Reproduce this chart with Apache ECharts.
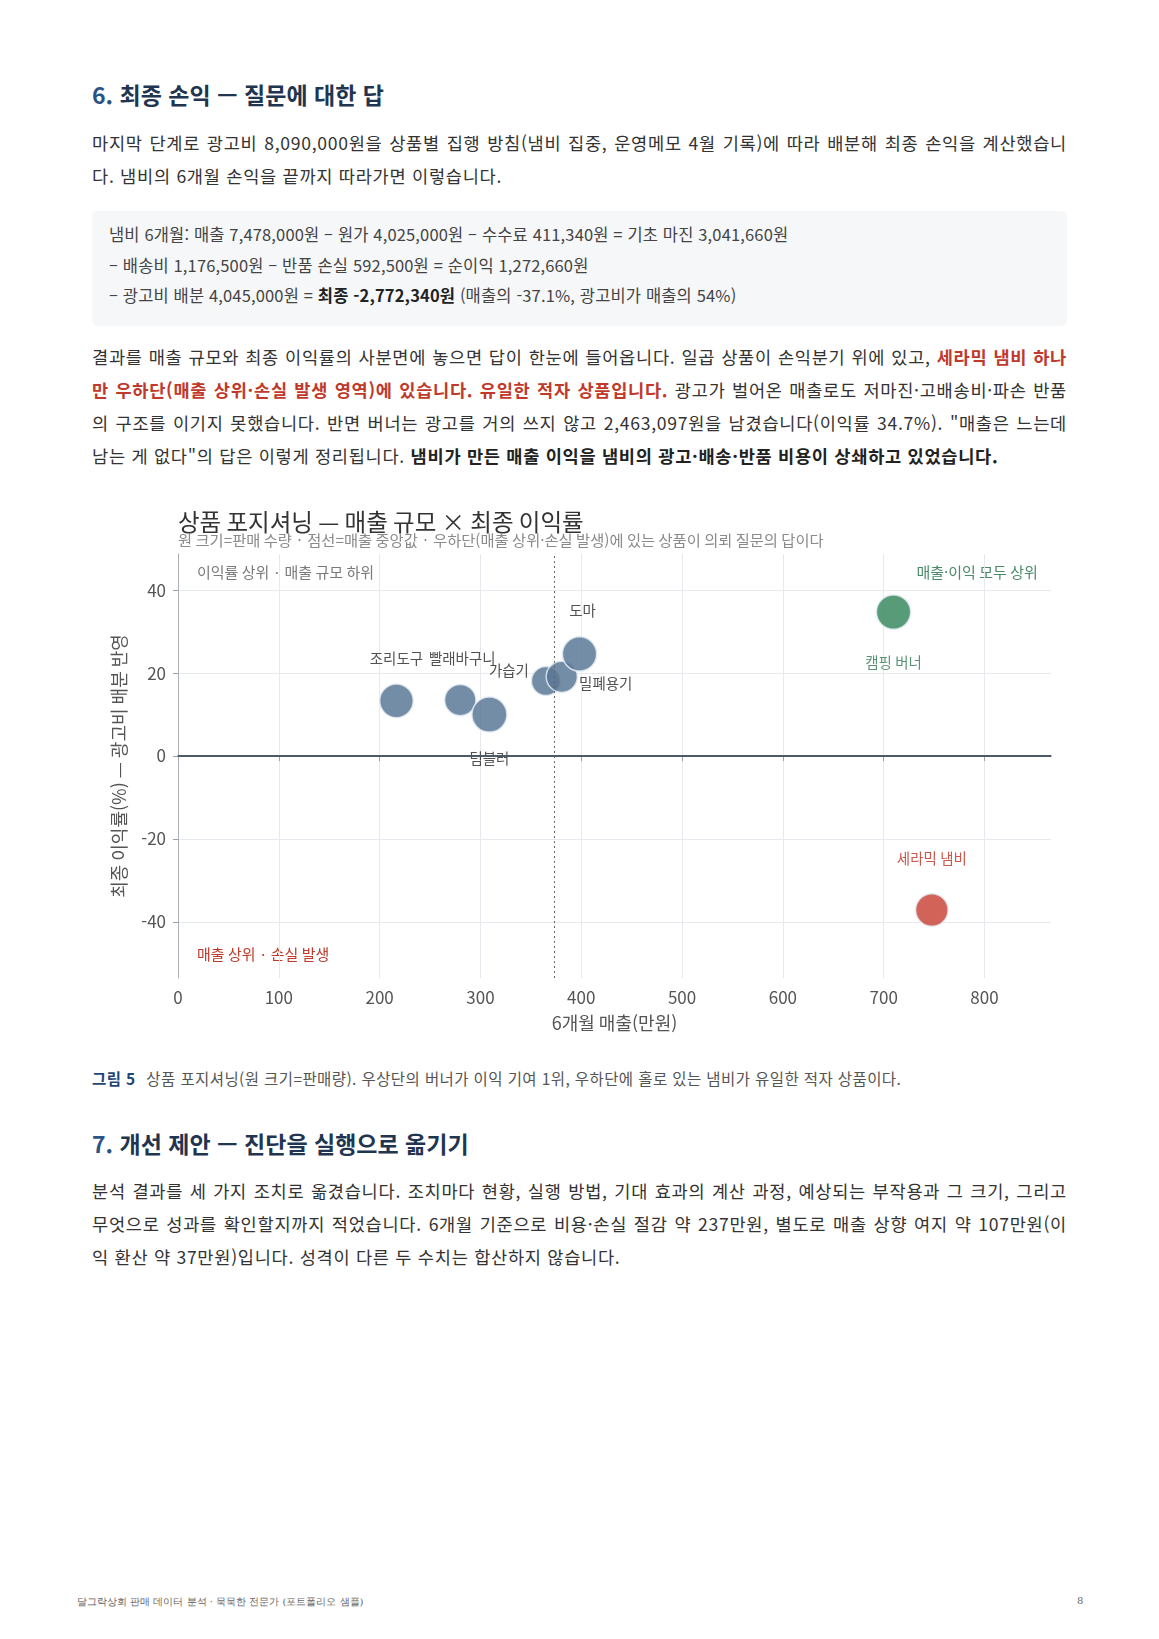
<!DOCTYPE html>
<html lang="ko">
<head>
<meta charset="utf-8">
<title>최종 손익</title>
<script src="https://cdn.jsdelivr.net/npm/echarts@6/dist/echarts.min.js"></script>
<style>
html, body { margin: 0; padding: 0; background: #fff; }
body { width: 1159px; height: 1639px; position: relative; font-family: "Noto Sans CJK KR", "Noto Sans", sans-serif; color: #333; }
.blk { position: absolute; left: 92px; width: 975px; }
h2 { margin: 0; font-size: 23px; line-height: 30px; font-weight: 700; color: #1f3550; }
h2 .num { color: #2a5485; }
.p { font-size: 17.6px; letter-spacing: 0.7px; line-height: 33px; color: #333; }
.ln { display: block; text-align: justify; text-align-last: justify; }
.ln.last { text-align-last: left; }
.red { color: #c0392b; font-weight: 700; }
b { font-weight: 700; color: #222; }
.box { background: #f6f7f9; border-radius: 6px; box-sizing: border-box; height: 115px; padding: 8px 17px 0 17px; font-size: 16.5px; letter-spacing: 0.15px; line-height: 30.5px; color: #444; }
.cap { font-size: 15.5px; letter-spacing: 0.4px; line-height: 22px; color: #555; }
.cap strong { color: #1f4677; font-weight: 700; margin-right: 6px; }
.foot { position: absolute; top: 1595px; font-family: "DejaVu Serif", serif; font-size: 10px; color: #666; }
#chart { position: absolute; left: 92px; top: 490px; width: 975px; height: 560px; }
</style>
</head>
<body>

<h2 class="blk" style="top:79px"><span class="num">6.</span> 최종 손익 — 질문에 대한 답</h2>

<div class="blk p" style="top:126px">
<span class="ln">마지막 단계로 광고비 8,090,000원을 상품별 집행 방침(냄비 집중, 운영메모 4월 기록)에 따라 배분해 최종 손익을 계산했습니</span>
<span class="ln last">다. 냄비의 6개월 손익을 끝까지 따라가면 이렇습니다.</span>
</div>

<div class="blk box" style="top:211px">
<div>냄비 6개월: 매출 7,478,000원 – 원가 4,025,000원 – 수수료 411,340원 = 기초 마진 3,041,660원</div>
<div>– 배송비 1,176,500원 – 반품 손실 592,500원 = 순이익 1,272,660원</div>
<div>– 광고비 배분 4,045,000원 = <b>최종 -2,772,340원</b> (매출의 -37.1%, 광고비가 매출의 54%)</div>
</div>

<div class="blk p" style="top:340px">
<span class="ln">결과를 매출 규모와 최종 이익률의 사분면에 놓으면 답이 한눈에 들어옵니다. 일곱 상품이 손익분기 위에 있고, <span class="red">세라믹 냄비 하나</span></span>
<span class="ln"><span class="red">만 우하단(매출 상위·손실 발생 영역)에 있습니다. 유일한 적자 상품입니다.</span> 광고가 벌어온 매출로도 저마진·고배송비·파손 반품</span>
<span class="ln">의 구조를 이기지 못했습니다. 반면 버너는 광고를 거의 쓰지 않고 2,463,097원을 남겼습니다(이익률 34.7%). "매출은 느는데</span>
<span class="ln last">남는 게 없다"의 답은 이렇게 정리됩니다. <b>냄비가 만든 매출 이익을 냄비의 광고·배송·반품 비용이 상쇄하고 있었습니다.</b></span>
</div>

<div id="chart"></div>

<div class="blk cap" style="top:1067px"><strong>그림 5</strong> 상품 포지셔닝(원 크기=판매량). 우상단의 버너가 이익 기여 1위, 우하단에 홀로 있는 냄비가 유일한 적자 상품이다.</div>

<h2 class="blk" style="top:1128px"><span class="num">7.</span> 개선 제안 — 진단을 실행으로 옮기기</h2>

<div class="blk p" style="top:1174px">
<span class="ln">분석 결과를 세 가지 조치로 옮겼습니다. 조치마다 현황, 실행 방법, 기대 효과의 계산 과정, 예상되는 부작용과 그 크기, 그리고</span>
<span class="ln">무엇으로 성과를 확인할지까지 적었습니다. 6개월 기준으로 비용·손실 절감 약 237만원, 별도로 매출 상향 여지 약 107만원(이</span>
<span class="ln last">익 환산 약 37만원)입니다. 성격이 다른 두 수치는 합산하지 않습니다.</span>
</div>

<div class="foot" style="left:77px">달그락상회 판매 데이터 분석 · 묵묵한 전문가 (포트폴리오 샘플)</div>
<div class="foot" style="left:1077px">8</div>

<script>
// 상품별 6개월 매출(만원), 최종 이익률(%), 판매 수량
var products = ['조리도구', '빨래바구니', '텀블러', '가습기', '밀폐용기', '도마', '캠핑 버너', '세라믹 냄비'];
var sales = [216.7, 280.0, 308.9, 365.0, 380.7, 398.3, 709.8, 747.8];
var margin = [13.3, 13.5, 10.0, 18.1, 19.1, 24.6, 34.7, -37.1];
var qty = [300, 220, 360, 150, 215, 330, 330, 260];

var xTicks = [0, 100, 200, 300, 400, 500, 600, 700, 800];
var yTicks = [-40, -20, 0, 20, 40];

// 매출 중앙값 (점선)
var sorted = sales.slice().sort(function(a, b) { return a - b; });
var mid = sorted.length / 2;
var salesMedian = sorted.length % 2 ? sorted[Math.floor(mid)] : (sorted[mid - 1] + sorted[mid]) / 2;

// 라벨 위치 (원 중심 기준)
var labelOffset = {
	'조리도구' : [0, -42],
	'빨래바구니' : [2, -42],
	'텀블러' : [0, 44],
	'가습기' : [-37, -10],
	'밀폐용기' : [44, 7],
	'도마' : [3, -43],
	'캠핑 버너' : [0, 50],
	'세라믹 냄비' : [0, -51]
};

var qMin = Math.sqrt(Math.min.apply(null, qty));
var qMax = Math.sqrt(Math.max.apply(null, qty));
function bubbleSize(q) {
	return 29 + (Math.sqrt(q) - qMin) / (qMax - qMin) * 6;
}

function colorOf(name) {
	if (name === '캠핑 버너') return { fill : '#3b8a62', text : '#3f7f5c' };
	if (name === '세라믹 냄비') return { fill : '#c9483b', text : '#c0392b' };
	return { fill : '#5a7998', text : '#333' };
}

var points = products.map(function(name, i) {
	var c = colorOf(name);
	return {
		name : name,
		value : [sales[i], margin[i], qty[i]],
		itemStyle : { color : c.fill },
		label : { offset : labelOffset[name], color : c.text }
	};
});

var chart = echarts.init(document.getElementById('chart'));
var axisFont = '"Noto Sans CJK KR", "Noto Sans", sans-serif';

var option = {
	animation : false,
	textStyle : { fontFamily : axisFont },
	title : [ {
		text : '상품 포지셔닝 — 매출 규모 × 최종 이익률',
		left : 86,
		top : 20,
		padding : 0,
		textStyle : { fontSize : 23.5, fontWeight : 'normal', color : '#333' }
	}, {
		text : '원 크기=판매 수량 · 점선=매출 중앙값 · 우하단(매출 상위·손실 발생)에 있는 상품이 의뢰 질문의 답이다',
		left : 86,
		top : 43,
		padding : 0,
		textStyle : { fontSize : 15.3, fontWeight : 'normal', color : '#8a8a8a' }
	} ],
	grid : {
		left : 86,
		right : 16,
		top : 64,
		bottom : 72
	},
	xAxis : {
		type : 'value',
		min : 0,
		max : 866,
		name : '6개월 매출(만원)',
		nameLocation : 'middle',
		nameGap : 36,
		nameTextStyle : { fontSize : 18, color : '#555' },
		axisLine : { lineStyle : { color : '#9aa1a8', width : 2 } },
		axisTick : { show : true, length : 5, lineStyle : { color : '#9aa1a8' }, customValues : xTicks },
		axisLabel : { fontSize : 17, color : '#555', margin : 11, customValues : xTicks },
		splitLine : { lineStyle : { color : '#e6eaee' } }
	},
	yAxis : {
		type : 'value',
		min : -53.5,
		max : 48.7,
		name : '최종 이익률(%) — 광고비 배분 반영',
		nameLocation : 'middle',
		nameGap : 50,
		nameTextStyle : { fontSize : 18, color : '#555' },
		axisLine : { show : true, lineStyle : { color : '#aab0b6', width : 1 } },
		axisTick : { show : true, length : 5, lineStyle : { color : '#9aa1a8' }, customValues : yTicks },
		axisLabel : { fontSize : 17, color : '#555', margin : 12, customValues : yTicks },
		splitLine : { lineStyle : { color : '#e6eaee' } }
	},
	graphic : [ {
		type : 'text',
		left : 105,
		top : 75,
		style : { text : '이익률 상위 · 매출 규모 하위', fill : '#7a7a7a', fontSize : 15, fontFamily : axisFont }
	}, {
		type : 'text',
		right : 25,
		top : 75,
		style : { text : '매출·이익 모두 상위', fill : '#4a8a68', fontSize : 15, fontFamily : axisFont }
	}, {
		type : 'text',
		left : 105,
		top : 457,
		style : { text : '매출 상위 · 손실 발생', fill : '#c0392b', fontSize : 15, fontFamily : axisFont }
	} ],
	series : [ {
		type : 'scatter',
		data : [],
		z : 1,
		markLine : {
			silent : true,
			symbol : 'none',
			label : { show : false },
			data : [ {
				yAxis : 0,
				lineStyle : { color : '#4c5a68', width : 2.2, type : 'solid' }
			}, {
				xAxis : salesMedian,
				lineStyle : { color : '#666', width : 1, type : [2, 3] }
			} ]
		}
	}, {
		type : 'scatter',
		z : 3,
		data : points,
		symbolSize : function(v) {
			return bubbleSize(v[2]);
		},
		itemStyle : {
			opacity : 0.85,
			borderColor : '#e3eaf2',
			borderWidth : 1.5
		},
		label : {
			show : true,
			position : 'inside',
			fontSize : 14.5,
			formatter : '{b}'
		}
	} ]
};
chart.setOption(option);
</script>
</body>
</html>
